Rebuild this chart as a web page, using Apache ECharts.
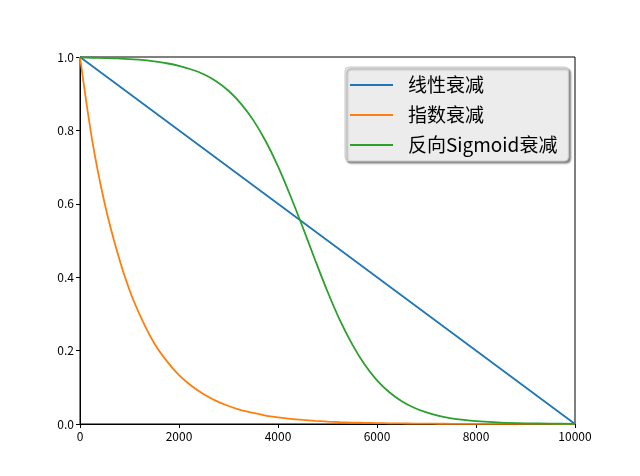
<!DOCTYPE html>
<html>
<head>
<meta charset="utf-8">
<script src="https://cdn.jsdelivr.net/npm/echarts@6/dist/echarts.min.js"></script>
<style>
html,body{margin:0;padding:0;background:#fff;}
#chart{width:640px;height:476px;}
</style>
</head>
<body>
<div id="chart"></div>
<script>
var seriesNames = ['线性衰减', '指数衰减', '反向Sigmoid衰减'];
var xLinear = [0, 10000];
var yLinear = [1.0, 0.0];
var xSteps = [0,250,500,750,1000,1250,1500,1750,2000,2250,2500,2750,3000,3250,3500,3750,4000,4250,4500,4750,5000,5250,5500,5750,6000,6250,6500,6750,7000,7250,7500,7750,8000,8500,9000,9500,10000];
var yExp = [1.0,0.77,0.60,0.47,0.365,0.285,0.22,0.172,0.133,0.104,0.081,0.063,0.049,0.038,0.030,0.023,0.018,0.014,0.011,0.0086,0.0067,0.0052,0.004,0.0032,0.0025,0.0019,0.0015,0.0012,0.0009,0.0007,0.0006,0.0004,0.0003,0.0002,0.0001,0.00008,0.00005];
var ySig = [0.999,0.998,0.997,0.996,0.994,0.992,0.988,0.983,0.976,0.966,0.953,0.934,0.908,0.873,0.828,0.771,0.702,0.622,0.536,0.447,0.361,0.283,0.217,0.162,0.119,0.0865,0.0622,0.0443,0.0314,0.0222,0.0156,0.011,0.0077,0.0038,0.0019,0.0009,0.0004];
var xTicks = [0, 2000, 4000, 6000, 8000, 10000];
var yTicks = [0.0, 0.2, 0.4, 0.6, 0.8, 1.0];

function pairs(xs, ys){ return xs.map(function(x,i){ return [x, ys[i]]; }); }

var font = '"Noto Sans CJK SC", "DejaVu Sans", sans-serif';
var chart = echarts.init(document.getElementById('chart'), null, {renderer:'canvas'});
var option = {
  backgroundColor: '#ffffff',
  animation: false,
  grid: { left: 80, right: 65, top: 57, bottom: 52, show: true, borderColor: '#000', borderWidth: 1, backgroundColor: 'transparent' },
  xAxis: {
    type: 'value', min: xTicks[0], max: xTicks[xTicks.length-1], interval: 2000,
    axisLine: { show: true, onZero: false, lineStyle: { color: '#000', width: 1 } },
    axisTick: { show: true, length: 4, lineStyle: { color: '#000' } },
    splitLine: { show: false },
    axisLabel: { color: '#000', fontSize: 12, fontFamily: font, margin: 6, formatter: function(v){ return String(v); } }
  },
  yAxis: {
    type: 'value', min: yTicks[0], max: yTicks[yTicks.length-1], interval: 0.2,
    axisLine: { show: true, onZero: false, lineStyle: { color: '#000', width: 1 } },
    axisTick: { show: true, length: 4, lineStyle: { color: '#000' } },
    splitLine: { show: false },
    axisLabel: { color: '#000', fontSize: 12, fontFamily: font, margin: 6, formatter: function(v){ return v.toFixed(1); } }
  },
  legend: {
    orient: 'vertical', left: 345, top: 67,
    backgroundColor: '#ececec', borderColor: '#cccccc', borderWidth: 1, borderRadius: 4,
    shadowColor: 'rgba(0,0,0,0.45)', shadowBlur: 2, shadowOffsetX: 2, shadowOffsetY: 2,
    padding: [8, 11, 6, 5],
    icon: 'rect', itemWidth: 43, itemHeight: 2, itemGap: 10,
    textStyle: { color: '#000', fontSize: 19, fontFamily: font, lineHeight: 20, padding: [0,0,0,10] },
    data: seriesNames
  },
  series: [
    { name: seriesNames[0], type: 'line', data: pairs(xLinear, yLinear), showSymbol: false, color: '#1f77b4', lineStyle: { width: 1.8 } },
    { name: seriesNames[1], type: 'line', data: pairs(xSteps, yExp), showSymbol: false, smooth: 0.3, color: '#ff7f0e', lineStyle: { width: 1.8 } },
    { name: seriesNames[2], type: 'line', data: pairs(xSteps, ySig), showSymbol: false, smooth: 0.3, color: '#2ca02c', lineStyle: { width: 1.8 } }
  ]
};
chart.setOption(option);
</script>
</body>
</html>
